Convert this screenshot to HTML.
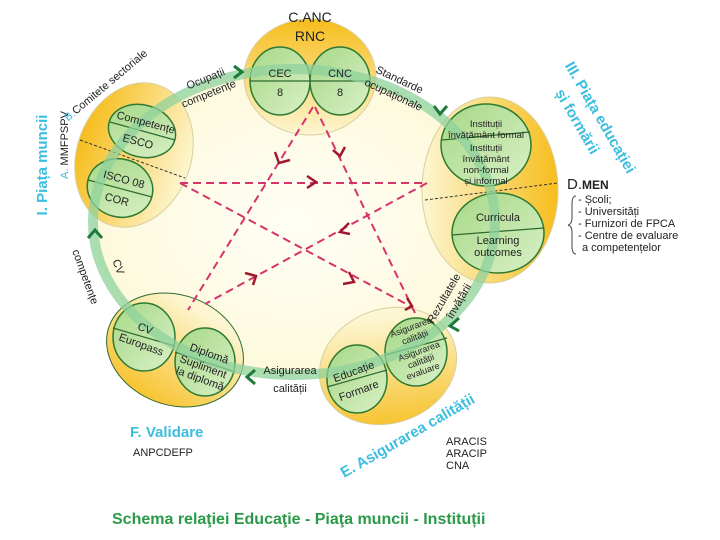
<!DOCTYPE html>
<html><head><meta charset="utf-8"><style>
html,body{margin:0;padding:0;background:#fff;}
svg{display:block;font-family:"Liberation Sans",sans-serif;}
</style></head><body>
<svg width="720" height="540" viewBox="0 0 720 540" xmlns="http://www.w3.org/2000/svg">
<defs>
<radialGradient id="bg" cx="0.5" cy="0.5" r="0.5"><stop offset="0" stop-color="#fffef5"/><stop offset="1" stop-color="#fdf9dc"/></radialGradient>
<linearGradient id="gTop" x1="0" y1="0" x2="0" y2="1"><stop offset="0" stop-color="#f6bd1c"/><stop offset="1" stop-color="#fdf6d2"/></linearGradient>
<linearGradient id="gLeft" x1="0" y1="0" x2="1" y2="0"><stop offset="0" stop-color="#f6bd1c"/><stop offset="1" stop-color="#fdf6d2"/></linearGradient>
<linearGradient id="gRight" x1="1" y1="0" x2="0" y2="0"><stop offset="0" stop-color="#f6bd1c"/><stop offset="1" stop-color="#fdf6d2"/></linearGradient>
<linearGradient id="gBot" x1="0" y1="1" x2="0.3" y2="0"><stop offset="0" stop-color="#f6bd1c"/><stop offset="1" stop-color="#fdf6d2"/></linearGradient>
<linearGradient id="gC" x1="0" y1="0" x2="1" y2="1"><stop offset="0" stop-color="#a6d886"/><stop offset="1" stop-color="#d9f0c6"/></linearGradient>
</defs>

<ellipse cx="294" cy="222" rx="201" ry="153" fill="url(#bg)"/>

<ellipse cx="310" cy="77" rx="66" ry="58" fill="url(#gTop)" stroke="#d8cfa0" stroke-width="1"/>
<ellipse cx="134" cy="155" rx="57" ry="74" transform="rotate(20 134 155)" fill="url(#gLeft)" stroke="#d8cfa0"/>
<ellipse cx="490" cy="190" rx="68" ry="93" fill="url(#gRight)" stroke="#d8cfa0"/>
<ellipse cx="175" cy="350" rx="70" ry="55" transform="rotate(20 175 350)" fill="url(#gBot)" stroke="#2e6a30" stroke-width="1"/>
<ellipse cx="388" cy="366" rx="70" ry="57" transform="rotate(-20 388 366)" fill="url(#gBot)" stroke="#d8cfa0"/>

<line x1="80" y1="140" x2="185" y2="178" stroke="#333" stroke-width="1" stroke-dasharray="3,2"/>
<line x1="425" y1="200" x2="558" y2="183" stroke="#333" stroke-width="1" stroke-dasharray="3,2"/>

<g stroke="#2e7a32" stroke-width="1.5" fill="url(#gC)">
<ellipse cx="280" cy="81" rx="30" ry="34"/>
<ellipse cx="340" cy="81" rx="30" ry="34"/>
<ellipse cx="142" cy="131" rx="34" ry="26" transform="rotate(15 142 131)"/>
<ellipse cx="120" cy="188" rx="33" ry="29" transform="rotate(15 120 188)"/>
<ellipse cx="486" cy="145" rx="45" ry="41"/>
<ellipse cx="498" cy="233" rx="46" ry="40"/>
<ellipse cx="144" cy="337" rx="31" ry="34"/>
<ellipse cx="205" cy="362" rx="30" ry="34"/>
<ellipse cx="357" cy="379" rx="30" ry="34"/>
<ellipse cx="416" cy="352" rx="31" ry="34"/>
</g>
<g stroke="#2e6a30" stroke-width="1.2">
<line x1="250" y1="81" x2="310" y2="81"/>
<line x1="310" y1="81" x2="370" y2="81"/>
<line x1="110" y1="122" x2="175" y2="140"/>
<line x1="88" y1="180" x2="152" y2="197"/>
<line x1="442" y1="140" x2="530" y2="132"/>
<line x1="452" y1="235" x2="544" y2="228"/>
<line x1="113" y1="328" x2="175" y2="346"/>
<line x1="175" y1="352" x2="235" y2="372"/>
<line x1="327" y1="387" x2="387" y2="370"/>
<line x1="385" y1="355" x2="447" y2="338"/>
</g>

<ellipse cx="294" cy="222" rx="201" ry="153" fill="none" stroke="#8fd29c" stroke-width="10" opacity="0.75"/>
<g fill="none" stroke="#1e7a3a" stroke-width="3">
<polyline points="234,66 242,72 234,78"/>
<polyline points="434,106 440,114 447,106"/>
<polyline points="459,318 450,326 459,331"/>
<polyline points="255,370 247,377 255,384"/>
<polyline points="88,238 95,230 102,238"/>
</g>

<g stroke="#d6336c" stroke-width="2" stroke-dasharray="8,5" fill="none">
<line x1="313" y1="107" x2="188" y2="310"/>
<line x1="315" y1="107" x2="415" y2="313"/>
<line x1="180" y1="183" x2="427" y2="183"/>
<line x1="180" y1="183" x2="410" y2="306"/>
<line x1="427" y1="183" x2="205" y2="304"/>
</g>
<g stroke="#a01830" stroke-width="2.5" fill="none">
<polyline points="275,152 279,163 290,160"/>
<polyline points="333,150 340,156 345,147"/>
<polyline points="307,176 316,182 307,188"/>
<polyline points="349,272 354,282 343,284"/>
<polyline points="349,223 340,232 350,234"/>
<polyline points="245,273 256,276 253,285"/>
<polyline points="407,298 412,306 405,310"/>
</g>

<g font-size="11" fill="#222" text-anchor="middle">
<text x="310" y="22" font-size="14">C.ANC</text>
<text x="310" y="41" font-size="14">RNC</text>
<text x="280" y="77">CEC</text><text x="280" y="96">8</text>
<text x="340" y="77">CNC</text><text x="340" y="96">8</text>
<text x="145" y="126" transform="rotate(15 145 126)">Competențe</text>
<text x="137" y="145" transform="rotate(15 137 145)">ESCO</text>
<text x="123" y="183" transform="rotate(15 123 183)">ISCO 08</text>
<text x="116" y="203" transform="rotate(15 116 203)">COR</text>
<g font-size="9.5">
<text x="486" y="127">Instituții</text>
<text x="486" y="138">învățământ formal</text>
<text x="486" y="151">Instituții</text>
<text x="486" y="162">învățământ</text>
<text x="486" y="173">non-formal</text>
<text x="486" y="184">și informal</text>
</g>
<text x="498" y="221">Curricula</text>
<text x="498" y="244">Learning</text>
<text x="498" y="256">outcomes</text>
<text x="144" y="332" transform="rotate(20 144 332)">CV</text>
<text x="140" y="348" transform="rotate(20 140 348)">Europass</text>
<text x="208" y="357" transform="rotate(20 208 357)">Diplomă</text>
<text x="202" y="370" transform="rotate(20 202 370)">Supliment</text>
<text x="199" y="382" transform="rotate(20 199 382)">la diplomă</text>
<text x="355" y="375" transform="rotate(-20 355 375)">Educație</text>
<text x="360" y="394" transform="rotate(-20 360 394)">Formare</text>
<g font-size="9">
<text x="412" y="330" transform="rotate(-20 412 330)">Asigurarea</text>
<text x="416" y="340" transform="rotate(-20 416 340)">calității</text>
<text x="420" y="354" transform="rotate(-20 420 354)">Asigurarea</text>
<text x="422" y="364" transform="rotate(-20 422 364)">calității</text>
<text x="424" y="374" transform="rotate(-20 424 374)">evaluare</text>
</g>
</g>

<g font-size="11" fill="#222" text-anchor="middle">
<text x="207" y="82" transform="rotate(-22 207 82)">Ocupații</text>
<text x="210" y="97" transform="rotate(-22 210 97)">competențe</text>
<text x="398" y="83" transform="rotate(25 398 83)">Standarde</text>
<text x="392" y="98" transform="rotate(25 392 98)">ocupaționale</text>
<text x="447" y="300" transform="rotate(-60 447 300)">Rezultatele</text>
<text x="462" y="303" transform="rotate(-60 462 303)">învățării</text>
<text x="290" y="374">Asigurarea</text>
<text x="290" y="392">calității</text>
<text x="115" y="268" transform="rotate(70 115 268)">CV</text>
<text x="82" y="278" transform="rotate(70 82 278)">competențe</text>
</g>

<g font-size="15" font-weight="bold" fill="#3cbde0">
<text x="47" y="165" text-anchor="middle" transform="rotate(-90 47 165)">I. Piața muncii</text>
<text x="596" y="120" text-anchor="middle" transform="rotate(60 596 120)">III. Piața educației</text>
<text x="573" y="124" text-anchor="middle" transform="rotate(60 573 124)">și formării</text>
<text x="130" y="437">F. Validare</text>
<text x="410" y="440" text-anchor="middle" transform="rotate(-30 410 440)">E. Asigurarea calității</text>
</g>
<g font-size="11" fill="#222">
<text x="68" y="145" text-anchor="middle" transform="rotate(-90 68 145)"><tspan fill="#3cbde0">A.</tspan> MMFPSPV</text>
<text x="108" y="88" text-anchor="middle" transform="rotate(-40 108 88)"><tspan fill="#3cbde0">B.</tspan>Comitete sectoriale</text>
<text x="133" y="456">ANPCDEFP</text>
<text x="446" y="445">ARACIS</text>
<text x="446" y="457">ARACIP</text>
<text x="446" y="469">CNA</text>
<text x="567" y="189" font-size="15">D.<tspan font-size="12" font-weight="bold">MEN</tspan></text>
<text x="578" y="203">- Școli;</text>
<text x="578" y="215">- Universități</text>
<text x="578" y="227">- Furnizori de FPCA</text>
<text x="578" y="239">- Centre de evaluare</text>
<text x="582" y="251">a competențelor</text>
</g>
<path d="M576,196 q-4,0 -4,8 v14 q0,6 -4,7 q4,1 4,7 v14 q0,8 4,8" fill="none" stroke="#444" stroke-width="1"/>

<text x="112" y="524" font-size="16" font-weight="bold" fill="#2a9a48">Schema relaţiei Educaţie - Piaţa muncii - Instituții</text>
</svg>
</body></html>
